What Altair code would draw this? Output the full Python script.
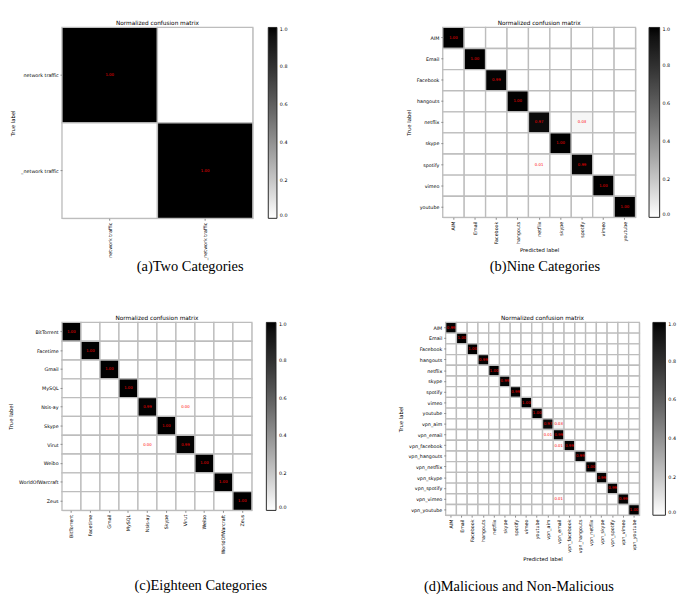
import altair as alt
import pandas as pd

# ---------------- data ----------------
a_labels = ["network traffic", "_network traffic"]
a_diag = [1.00, 1.00]
a_off_rows, a_off_cols, a_off_vals = [], [], []

b_labels = ["AIM", "Email", "Facebook", "hangouts", "netflix", "skype", "spotify", "vimeo", "youtube"]
b_diag = [1.00, 1.00, 0.99, 1.00, 0.97, 1.00, 0.99, 1.00, 1.00]
b_off_rows = ["netflix", "spotify"]
b_off_cols = ["spotify", "netflix"]
b_off_vals = [0.03, 0.01]

c_labels = ["BitTorrent", "Facetime", "Gmail", "MySQL", "Nsis-ay", "Skype", "Virut", "Weibo",
            "WorldOfWarcraft", "Zeus"]
c_diag = [1.00, 1.00, 1.00, 1.00, 0.99, 1.00, 0.99, 1.00, 1.00, 1.00]
c_off_rows = ["Nsis-ay", "Virut"]
c_off_cols = ["Virut", "Nsis-ay"]
c_off_vals = [0.004, 0.004]

d_labels = ["AIM", "Email", "Facebook", "hangouts", "netflix", "skype", "spotify", "vimeo", "youtube",
            "vpn_aim", "vpn_email", "vpn_facebook", "vpn_hangouts", "vpn_netflix", "vpn_skype",
            "vpn_spotify", "vpn_vimeo", "vpn_youtube"]
d_diag = [0.99, 1.00, 1.00, 0.99, 1.00, 0.99, 0.99, 1.00, 1.00,
          0.97, 0.99, 0.99, 0.99, 1.00, 0.99, 0.99, 0.99, 1.00]
d_off_rows = ["vpn_aim", "vpn_email", "vpn_facebook", "vpn_vimeo"]
d_off_cols = ["vpn_email", "vpn_aim", "vpn_email", "vpn_email"]
d_off_vals = [0.03, 0.01, 0.01, 0.01]

captions = ["(a)Two Categories", "(b)Nine Categories", "(c)Eighteen Categories",
            "(d)Malicious and Non-Malicious"]
title_text = "Normalized confusion matrix"
legend_ticks = [0.0, 0.2, 0.4, 0.6, 0.8, 1.0]

FONT = "DejaVu Sans"
SERIF = "Liberation Serif"


def panel(labels, diag, off_r, off_c, off_v, W, H, caption, cap_x, cap_y,
          xtitle, thick, offset, cell_font):
    vals = {(l, l): v for l, v in zip(labels, diag)}
    for r, c, v in zip(off_r, off_c, off_v):
        vals[(r, c)] = v
    rows = []
    for r in labels:
        for c in labels:
            v = vals.get((r, c), 0.0)
            rows.append({"true": r, "pred": c, "value": v,
                         "txt": f"{v:.2f}" if v > 0 else ""})
    df = pd.DataFrame(rows)
    base = alt.Chart(df)
    x = alt.X("pred:N", sort=labels, title=xtitle,
              axis=alt.Axis(labelAngle=270, labelFontSize=5, titleFontSize=5.5,
                            labelFont=FONT, titleFont=FONT, titleFontWeight="normal",
                            tickSize=2, labelPadding=2, domain=False, titlePadding=4))
    y = alt.Y("true:N", sort=labels, title="True label",
              axis=alt.Axis(labelFontSize=5, titleFontSize=5.5, labelFont=FONT,
                            titleFont=FONT, titleFontWeight="normal", tickSize=2,
                            labelPadding=2, domain=False, titlePadding=5))
    rect = base.mark_rect(stroke="#bdbdbd", strokeWidth=1.4).encode(
        x=x, y=y,
        color=alt.Color("value:Q",
                        scale=alt.Scale(range=["#ffffff", "#000000"], domain=[0, 1]),
                        legend=alt.Legend(title=None, orient="right", offset=offset,
                                          gradientLength=H, gradientThickness=thick,
                                          values=legend_ticks, format=".1f",
                                          labelFontSize=5, labelFont=FONT,
                                          gradientStrokeColor="#222",
                                          gradientStrokeWidth=1, padding=0,
                                          labelOffset=3)))
    text = base.transform_filter("datum.value > 0").mark_text(
        color="red", fontSize=cell_font, font=FONT).encode(x=x, y=y, text="txt:N")
    cap = alt.Chart(pd.DataFrame({"cap": [caption]})).mark_text(
        font=SERIF, fontSize=15, color="black", baseline="middle",
        align="center").encode(x=alt.value(cap_x), y=alt.value(cap_y), text="cap:N")
    return alt.layer(rect, text, cap).properties(
        width=W, height=H,
        title=alt.TitleParams(title_text, fontSize=6, font=FONT, fontWeight="normal",
                              offset=1, frame="group", anchor="middle"))


pa = panel(a_labels, a_diag, a_off_rows, a_off_cols, a_off_vals, 198, 198, captions[0],
           133, 198 + 50, None, 9, 16, 4)
pb = panel(b_labels, b_diag, b_off_rows, b_off_cols, b_off_vals, 200, 197, captions[1],
           106, 197 + 51, "Predicted label", 11, 14, 4)
pc = panel(c_labels, c_diag, c_off_rows, c_off_cols, c_off_vals, 197, 195, captions[2],
           144, 195 + 78, None, 10, 15, 4)
pd_ = panel(d_labels, d_diag, d_off_rows, d_off_cols, d_off_vals, 201, 200, captions[3],
            76, 200 + 74, "Predicted label", 13, 14, 4)

row1 = alt.hconcat(pa, pb, spacing=122).resolve_scale(color="independent").resolve_legend(color="independent")
row2 = alt.hconcat(pc, pd_, spacing=114).resolve_scale(color="independent").resolve_legend(color="independent")

chart = alt.vconcat(row1, row2, spacing=40).resolve_scale(
    color="independent").resolve_legend(color="independent").properties(
    padding=0).configure_view(stroke="#222", strokeWidth=1).configure(background="white")

chart.save("out.html", embed_options={"renderer": "svg", "actions": False})
